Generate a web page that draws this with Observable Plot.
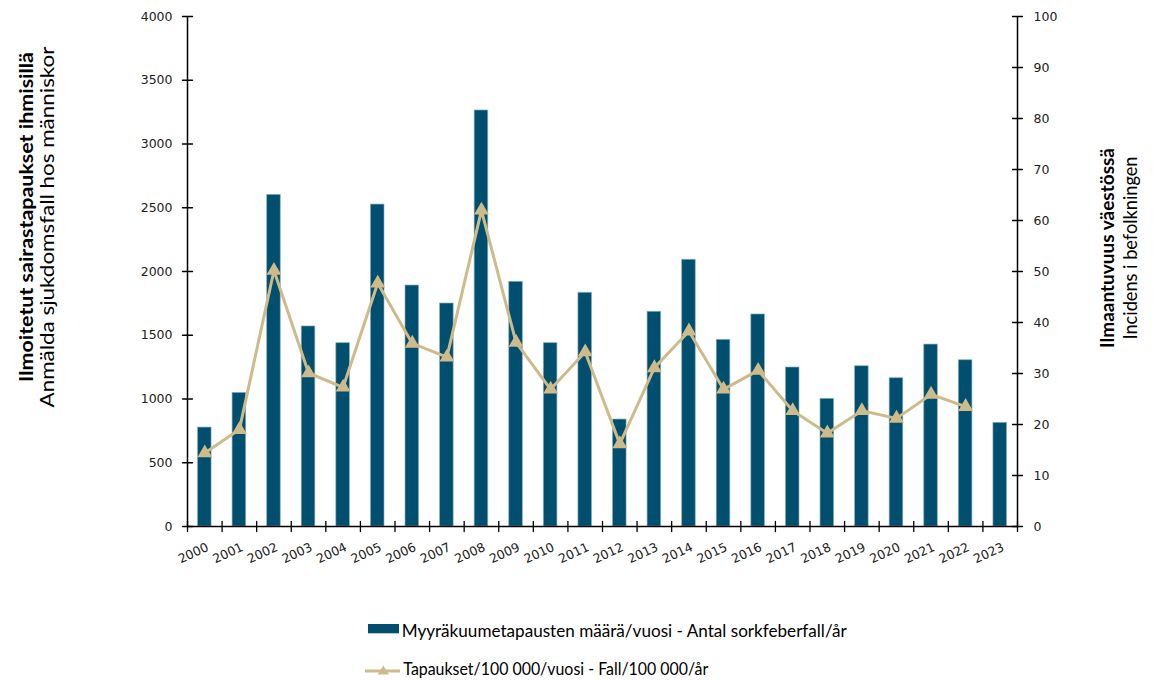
<!DOCTYPE html>
<html><head><meta charset="utf-8">
<script src="https://cdn.jsdelivr.net/npm/d3@7"></script>
<script src="https://cdn.jsdelivr.net/npm/@observablehq/plot@0.6"></script>
<style>
body{margin:0;background:#fff;}
#wrap{position:relative;width:1154px;height:681px;overflow:hidden;background:#fff;}
#chart{position:absolute;left:0;top:0;}
#overlay{position:absolute;left:0;top:0;pointer-events:none;}
</style>
</head><body>
<div id="wrap">
  <div id="chart"></div>
  <svg id="overlay" width="1154" height="681"></svg>
</div>
<script>
const years = [2000,2001,2002,2003,2004,2005,2006,2007,2008,2009,2010,2011,2012,2013,2014,2015,2016,2017,2018,2019,2020,2021,2022,2023];
const cases = [776,1048,2601,1569,1438,2525,1890,1749,3263,1919,1438,1833,839,1684,2092,1464,1663,1247,1001,1257,1163,1427,1304,813];
const incidenceYears = [2000,2001,2002,2003,2004,2005,2006,2007,2008,2009,2010,2011,2012,2013,2014,2015,2016,2017,2018,2019,2020,2021,2022];
const incidence = [14.4,19.0,50.2,30.1,27.3,47.7,35.9,33.2,62.0,36.1,26.9,34.2,16.2,31.1,38.3,26.9,30.6,22.7,18.3,22.7,21.2,25.9,23.5];
const leftTicks = [0,500,1000,1500,2000,2500,3000,3500,4000];
const rightTicks = [0,10,20,30,40,50,60,70,80,90,100];
const leftTitle = ["Ilmoitetut sairastapaukset ihmisillä", "Anmälda sjukdomsfall hos människor"];
const rightTitle = ["Ilmaantuvuus väestössä", "Incidens i befolkningen"];
const seriesBar = "Myyräkuumetapausten määrä/vuosi - Antal sorkfeberfall/år";
const seriesLine = "Tapaukset/100 000/vuosi - Fall/100 000/år";

const barColor = "#004F6E";
const lineColor = "#CFBA8A";
const leftMax = 4000, rightMax = 100, k = leftMax / rightMax;
const tickFont = "'DejaVu Sans', Verdana, sans-serif";
const textFont = "Lato, 'Open Sans', sans-serif";

const barData = years.map((y, i) => ({year: y, cases: cases[i]}));
const lineData = incidenceYears.map((y, i) => ({year: y, inc: incidence[i]}));
const lo = years[0] - 0.5, hi = years[years.length - 1] + 0.5;
const boundaries = d3.range(lo, hi + 0.01, 1);
const tickShape = {draw(ctx, l) { ctx.moveTo(0, 0); ctx.lineTo(0, -l); }};

const chart = Plot.plot({
  width: 1154, height: 600,
  marginTop: 16, marginBottom: 74, marginLeft: 187, marginRight: 137,
  style: {background: "transparent", overflow: "visible", fontFamily: tickFont, fontSize: "12.5px"},
  x: {domain: [lo, hi], axis: null},
  y: {domain: [0, leftMax], axis: null},
  marks: [
    Plot.rectY(barData, {x1: d => d.year - 0.5, x2: d => d.year + 0.5, y: "cases", insetLeft: 10.5, insetRight: 10.5, fill: barColor, stroke: "#8AAFC2", strokeWidth: 0.8, strokeOpacity: 0.8}),
    Plot.ruleX([lo, hi], {stroke: "#000", strokeWidth: 1.5}),
    Plot.ruleY([0], {stroke: "#000", strokeWidth: 1.5}),
    Plot.vector(leftTicks, {x: () => lo, y: d => d, length: 10, rotate: 90, anchor: "middle", shape: tickShape, stroke: "#000", strokeWidth: 1.3}),
    Plot.vector(rightTicks, {x: () => hi, y: d => d * k, length: 10, rotate: 90, anchor: "middle", shape: tickShape, stroke: "#000", strokeWidth: 1.3}),
    Plot.vector(boundaries, {x: d => d, y: () => 0, length: 10, rotate: 0, anchor: "middle", shape: tickShape, stroke: "#000", strokeWidth: 1.3}),
    Plot.axisY({ticks: leftTicks, anchor: "left", tickSize: 0, tickPadding: 15, fontSize: 12.5, label: null, tickFormat: d => String(d), fill: "#222"}),
    Plot.axisY({ticks: rightTicks.map(v => v * k), anchor: "right", tickSize: 0, tickPadding: 16, fontSize: 12.5, label: null, tickFormat: d => String(Math.round(d / k)), fill: "#222"}),
    Plot.text(years, {x: d => d, y: () => 0, text: d => String(d), rotate: -25, textAnchor: "end", dx: 3, dy: 20, fontSize: 12.5, fill: "#222"}),
    Plot.line(lineData, {x: "year", y: d => d.inc * k, stroke: lineColor, strokeWidth: 3}),
    Plot.dot(lineData, {x: "year", y: d => d.inc * k, symbol: "triangle", r: 5.5, fill: lineColor, stroke: "none"})
  ]
});
d3.select(chart).selectAll("text").style("font-size", "12.5px").style("font-family", tickFont);
document.getElementById("chart").appendChild(chart);

// Axis titles and legend (real text, sized to the reference)
const ov = d3.select("#overlay");
const titles = [
  {text: leftTitle[0], x: 33, y: 217, len: 330, bold: true},
  {text: leftTitle[1], x: 54, y: 227, len: 361, bold: false},
  {text: rightTitle[0], x: 1114, y: 248, len: 200, bold: true},
  {text: rightTitle[1], x: 1137, y: 248, len: 183, bold: false}
];
ov.selectAll("text.title").data(titles).join("text")
  .attr("class", "title")
  .attr("transform", d => `translate(${d.x},${d.y}) rotate(-90)`)
  .attr("text-anchor", "middle")
  .attr("font-family", textFont)
  .attr("font-size", 19)
  .attr("font-weight", d => d.bold ? 700 : 400)
  .attr("textLength", d => d.len)
  .attr("lengthAdjust", "spacingAndGlyphs")
  .attr("fill", "#000")
  .text(d => d.text);

ov.append("rect").attr("x", 368).attr("y", 624).attr("width", 31).attr("height", 9.3).attr("fill", barColor);
ov.append("line").attr("x1", 365).attr("x2", 400).attr("y1", 671).attr("y2", 671).attr("stroke", lineColor).attr("stroke-width", 3);
ov.append("path").attr("d", "M383.3,665.5 L389,674.5 L377.6,674.5 Z").attr("fill", lineColor);
const legendTexts = [
  {text: seriesBar, x: 401.7, y: 636.5, len: 445},
  {text: seriesLine, x: 403.3, y: 675, len: 305}
];
ov.selectAll("text.leg").data(legendTexts).join("text")
  .attr("class", "leg")
  .attr("x", d => d.x).attr("y", d => d.y)
  .attr("font-family", textFont)
  .attr("font-size", 17)
  .attr("textLength", d => d.len)
  .attr("lengthAdjust", "spacingAndGlyphs")
  .attr("fill", "#000")
  .text(d => d.text);
</script>
</body></html>
